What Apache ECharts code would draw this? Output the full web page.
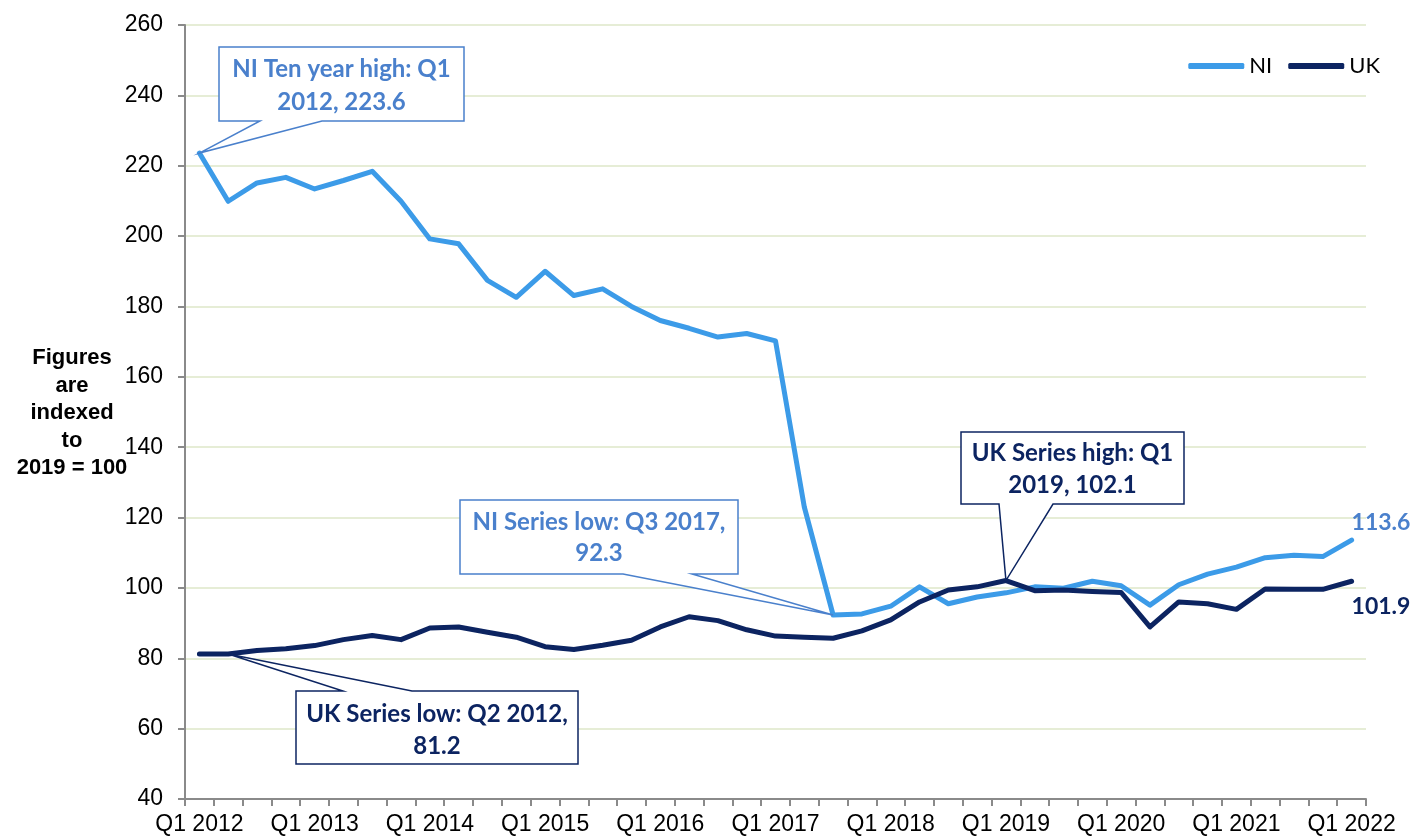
<!DOCTYPE html>
<html>
<head>
<meta charset="utf-8">
<script src="https://cdn.jsdelivr.net/npm/echarts/dist/echarts.min.js"></script>
<style>
html,body{margin:0;padding:0;background:#fff;}
#chart{width:1415px;height:837px;}
</style>
</head>
<body>
<div id="chart"></div>
<script>
// ---- data ----
const categories = [
  'Q1 2012','Q2 2012','Q3 2012','Q4 2012',
  'Q1 2013','Q2 2013','Q3 2013','Q4 2013',
  'Q1 2014','Q2 2014','Q3 2014','Q4 2014',
  'Q1 2015','Q2 2015','Q3 2015','Q4 2015',
  'Q1 2016','Q2 2016','Q3 2016','Q4 2016',
  'Q1 2017','Q2 2017','Q3 2017','Q4 2017',
  'Q1 2018','Q2 2018','Q3 2018','Q4 2018',
  'Q1 2019','Q2 2019','Q3 2019','Q4 2019',
  'Q1 2020','Q2 2020','Q3 2020','Q4 2020',
  'Q1 2021','Q2 2021','Q3 2021','Q4 2021',
  'Q1 2022'
];
const niValues = [
  223.6, 209.9, 215.1, 216.7,
  213.4, 215.8, 218.4, 209.9,
  199.2, 197.8, 187.4, 182.6,
  190.0, 183.1, 185.0, 180.0,
  176.0, 173.8, 171.3, 172.3,
  170.2, 123.0, 92.3, 92.6,
  94.8, 100.3, 95.5, 97.4,
  98.6, 100.3, 99.9, 101.9,
  100.6, 95.1, 100.9, 103.9,
  105.9, 108.6, 109.3, 108.9,
  113.6
];
const ukValues = [
  81.2, 81.2, 82.2, 82.7,
  83.6, 85.3, 86.5, 85.3,
  88.6, 88.9, 87.4, 86.0,
  83.3, 82.5, 83.7, 85.1,
  88.9, 91.8, 90.7, 88.1,
  86.3, 86.0, 85.7, 87.8,
  90.9, 96.0, 99.4, 100.3,
  102.1, 99.2, 99.4, 99.0,
  98.7, 88.9, 96.0, 95.5,
  93.9, 99.7, 99.6, 99.6,
  101.9
];
const seriesNames = ['NI', 'UK'];
const yTicks = { min: 40, max: 260, interval: 20 };
const yTitleLines = ['Figures', 'are', 'indexed', 'to', '2019 = 100'];
// callouts: [series index, category index, text lines]
const callouts = [
  { series: 0, idx: 0,  lines: ['NI Ten year high: Q1', '2012, 223.6'] },
  { series: 0, idx: 22, lines: ['NI Series low: Q3 2017,', '92.3'] },
  { series: 1, idx: 28, lines: ['UK Series high: Q1', '2019, 102.1'] },
  { series: 1, idx: 1,  lines: ['UK Series low: Q2 2012,', '81.2'] }
];

// ---- styles / layout ----
const NI_COLOR = '#3C9BE8';
const UK_COLOR = '#0C2461';
const NI_TEXT = '#4A80CC';
const AXIS_GREY = '#8A8A8A';
const GRID_COLOR = '#E6EDD6';
const TICK_FONT = 'Liberation Sans, Arial, sans-serif';
const NOTE_FONT = 'Lato, Liberation Sans, sans-serif';

// callout boxes (pixel layout): box rect, pointer base on 'bottom' or 'top' edge
const calloutLayout = [
  { x0: 219, y0: 47,  x1: 464,  y1: 121, edge: 'bottom', b0: 260, b1: 322, color: NI_TEXT, lineY: [69, 102] },
  { x0: 460, y0: 500, x1: 738,  y1: 574, edge: 'bottom', b0: 623, b1: 692, color: NI_TEXT, lineY: [522, 553] },
  { x0: 961, y0: 432, x1: 1184, y1: 504, edge: 'bottom', b0: 999, b1: 1053, color: UK_COLOR, lineY: [453, 485] },
  { x0: 296, y0: 691, x1: 578,  y1: 764, edge: 'top',    b0: 343, b1: 412, color: UK_COLOR, lineY: [714, 746] }
];

const chart = echarts.init(document.getElementById('chart'), null, { renderer: 'canvas' });

function mkSeries(name, values, color, textColor, labelOffset) {
  return {
    name: name,
    type: 'line',
    data: values,
    symbol: 'none',
    lineStyle: { width: 5, color: color, cap: 'round', join: 'round' },
    itemStyle: { color: color },
    endLabel: {
      show: true,
      formatter: function (p) { return String(p.value); },
      color: textColor,
      fontFamily: NOTE_FONT,
      fontWeight: 'bold',
      fontSize: 23,
      distance: 0,
      offset: labelOffset
    },
    emphasis: { disabled: true },
    z: name === 'NI' ? 2 : 3
  };
}

chart.setOption({
  animation: false,
  backgroundColor: '#ffffff',
  grid: { left: 185, right: 49, top: 25, bottom: 38, containLabel: false },
  legend: {
    data: seriesNames,
    right: 30, top: 50,
    icon: 'roundRect',
    itemWidth: 56, itemHeight: 6, itemGap: 16,
    textStyle: { fontFamily: NOTE_FONT, fontSize: 22, color: '#000' }
  },
  xAxis: {
    type: 'category',
    data: categories,
    boundaryGap: true,
    axisLine: { lineStyle: { color: AXIS_GREY, width: 2 } },
    axisTick: { show: true, interval: 0, length: 7, lineStyle: { color: AXIS_GREY, width: 2 } },
    axisLabel: { interval: 3, margin: 14, fontFamily: TICK_FONT, fontSize: 23, color: '#000' },
    splitLine: { show: false }
  },
  yAxis: {
    type: 'value',
    min: yTicks.min, max: yTicks.max, interval: yTicks.interval,
    axisLine: { show: true, lineStyle: { color: AXIS_GREY, width: 2 } },
    axisTick: { show: true, length: 7, lineStyle: { color: AXIS_GREY, width: 2 } },
    axisLabel: { margin: 22, fontFamily: TICK_FONT, fontSize: 23, color: '#000' },
    splitLine: { show: true, lineStyle: { color: GRID_COLOR, width: 2 } }
  },
  series: [
    mkSeries('NI', niValues, NI_COLOR, NI_TEXT, [0, -17]),
    mkSeries('UK', ukValues, UK_COLOR, UK_COLOR, [0, 25])
  ]
});

// build annotations anchored on data points via the chart's scales
const graphics = [];
callouts.forEach(function (c, i) {
  const L = calloutLayout[i];
  const vals = c.series === 0 ? niValues : ukValues;
  const tip = chart.convertToPixel({ seriesIndex: c.series }, [c.idx, vals[c.idx]]);
  let pts;
  if (L.edge === 'bottom') {
    pts = [[L.x0, L.y0], [L.x1, L.y0], [L.x1, L.y1], [L.b1, L.y1], tip, [L.b0, L.y1], [L.x0, L.y1]];
  } else {
    pts = [[L.x0, L.y0], [L.b0, L.y0], tip, [L.b1, L.y0], [L.x1, L.y0], [L.x1, L.y1], [L.x0, L.y1]];
  }
  graphics.push({
    type: 'polygon',
    shape: { points: pts },
    style: { fill: '#ffffff', stroke: L.color, lineWidth: 1.5 },
    z: 100
  });
  const cx = (L.x0 + L.x1) / 2;
  c.lines.forEach(function (t, k) {
    graphics.push({
      type: 'text',
      x: cx, y: L.lineY[k],
      style: {
        text: t, fill: L.color, font: 'bold 24px ' + NOTE_FONT,
        textAlign: 'center', textVerticalAlign: 'middle'
      },
      z: 101
    });
  });
});
// y-axis title
yTitleLines.forEach(function (t, k) {
  graphics.push({
    type: 'text',
    x: 72, y: 358 + k * 27.5,
    style: {
      text: t, fill: '#000', font: 'bold 22px ' + TICK_FONT,
      textAlign: 'center', textVerticalAlign: 'middle'
    },
    z: 101
  });
});
chart.setOption({ graphic: graphics });
</script>
</body>
</html>
